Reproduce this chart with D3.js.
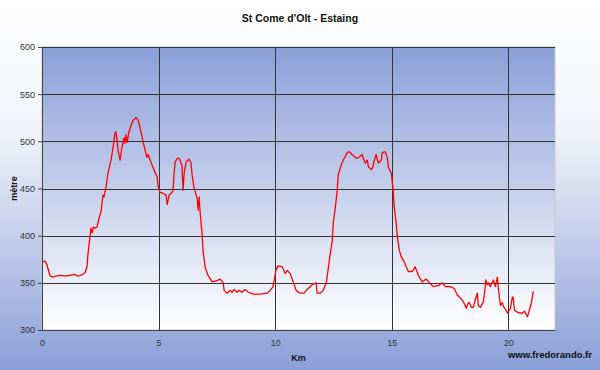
<!DOCTYPE html>
<html>
<head>
<meta charset="utf-8">
<script src="https://cdn.jsdelivr.net/npm/d3@7"></script>
<style>
    body { margin: 0; padding: 0; }
    svg text { font-family: "Liberation Sans", Arial, sans-serif; }
</style>
</head>
<body>
<div id="chart"></div>
<script>
// profile: distance (km) and altitude (m)
const distanceKm = [
    0, 0.13, 0.2, 0.34, 0.43, 0.6, 0.8, 1.0, 1.2, 1.4, 1.55, 1.75, 1.85, 1.93, 1.97,
    2.06, 2.1, 2.15, 2.2, 2.27, 2.36, 2.45, 2.53, 2.58, 2.62, 2.66, 2.75, 2.83, 2.96,
    3.05, 3.13, 3.17, 3.22, 3.26, 3.35, 3.43, 3.48, 3.52, 3.56, 3.6, 3.65, 3.73, 3.82, 3.9,
    4.03, 4.12, 4.16, 4.29, 4.34, 4.42, 4.5, 4.55, 4.64, 4.72, 4.8, 4.94, 4.98,
    5.06, 5.19, 5.32, 5.37, 5.45, 5.58, 5.62, 5.66, 5.71, 5.8, 5.88,
    6.0, 6.05, 6.1, 6.18, 6.31, 6.39, 6.44, 6.52, 6.61, 6.65, 6.7, 6.74, 6.78, 6.87, 6.91,
    7.0, 7.12, 7.3, 7.47, 7.64, 7.77, 7.81, 7.94, 8.07, 8.15, 8.24, 8.37, 8.45, 8.58, 8.71, 8.85,
    9.06, 9.36, 9.66, 9.79, 9.91, 9.96, 10.04, 10.13, 10.3, 10.43, 10.52, 10.64, 10.77, 10.9,
    11.07, 11.24, 11.37, 11.59, 11.76, 11.8, 11.93, 12.06, 12.19, 12.27, 12.34, 12.45, 12.49,
    12.58, 12.66, 12.7, 12.83, 12.92, 13.09, 13.18, 13.3, 13.48, 13.6, 13.73, 13.78, 13.86, 13.95,
    14.0, 14.12, 14.18, 14.25, 14.33, 14.42, 14.55, 14.59, 14.72, 14.81, 14.85, 14.98,
    15.06, 15.11, 15.19, 15.24, 15.32, 15.4, 15.54, 15.62, 15.71, 15.88, 16.0, 16.14, 16.3, 16.48,
    16.61, 16.78, 17.0, 17.17, 17.3, 17.51, 17.68, 17.81, 17.94, 18.07, 18.2, 18.26, 18.33, 18.41,
    18.5, 18.58, 18.67, 18.71, 18.8, 18.93, 19.0, 19.03, 19.1, 19.14, 19.23, 19.3, 19.36, 19.44,
    19.53, 19.57, 19.66, 19.74, 19.79, 19.87, 19.96, 20.09, 20.17, 20.21, 20.26, 20.39, 20.47,
    20.6, 20.69, 20.82, 20.9, 20.99, 21.07
];
const altitudeM = [
    372, 373, 370, 358, 356, 357, 358, 357, 358, 359, 357, 359, 361, 367, 380,
    399, 408, 403, 409, 408, 409, 419, 425, 436, 443, 441, 452, 466, 480,
    494, 509, 510, 501, 491, 480, 494, 499, 504, 498, 507, 499, 510, 517, 522,
    525, 523, 519, 505, 499, 491, 483, 486, 480, 475, 470, 462, 452,
    446, 445, 443, 433, 443, 446, 448, 464, 478, 482, 482,
    475, 448, 467, 478, 481, 477, 464, 451, 443, 440, 427, 441, 425, 401, 383,
    366, 358, 351, 352, 354, 350, 342, 339, 342, 340, 343, 340, 342, 340, 343, 340,
    338, 338, 339, 342, 346, 353, 364, 368, 367, 360, 363, 360, 351, 342,
    339, 339, 343, 348, 350, 339, 339, 342, 350, 364, 377, 395, 413,
    430, 448, 464, 475, 480, 488, 489, 486, 482, 483, 486, 482, 477, 480,
    473, 470, 472, 480, 486, 477, 480, 488, 489, 483, 473, 466,
    448, 430, 413, 399, 385, 378, 372, 367, 362, 362, 367, 358, 351, 354,
    350, 346, 347, 350, 346, 346, 344, 337, 334, 330, 323, 328, 329, 324,
    324, 332, 339, 326, 324, 330, 344, 353, 348, 350, 346, 350, 353, 346,
    356, 344, 326, 329, 325, 322, 318, 323, 335, 334, 321, 319, 318,
    318, 320, 314, 321, 329, 341
];
const xTicks = [0, 5, 10, 15, 20];
const yTicks = [300, 350, 400, 450, 500, 550, 600];

const TITLE = "St Come d'Olt - Estaing";
const X_LABEL = "Km";
const Y_LABEL = "mètre";
const CREDIT = "www.fredorando.fr";

const SVG_WIDTH = 600;
const SVG_HEIGHT = 370;
const margin = {top: 47, right: 45, bottom: 40, left: 42};
const plotWidth = SVG_WIDTH - margin.left - margin.right;
const plotHeight = SVG_HEIGHT - margin.top - margin.bottom;

const profile = distanceKm.map((d, i) => ({km: d, alt: altitudeM[i]}));

const svg = d3.select("#chart")
    .append("svg")
    .attr("width", SVG_WIDTH)
    .attr("height", SVG_HEIGHT);

const defs = svg.append("defs");

// page background: white at top, blue at the bottom
const bgGrad = defs.append("linearGradient")
    .attr("id", "bgGrad").attr("x1", 0).attr("y1", 0).attr("x2", 0).attr("y2", 1);
bgGrad.append("stop").attr("offset", "0%").attr("stop-color", "#ffffff");
bgGrad.append("stop").attr("offset", "35%").attr("stop-color", "#f2f4fa");
bgGrad.append("stop").attr("offset", "100%").attr("stop-color", "#8a9fd8");

// plot background: blue at top, white at the bottom
const plotGrad = defs.append("linearGradient")
    .attr("id", "plotGrad").attr("x1", 0).attr("y1", 0).attr("x2", 0).attr("y2", 1);
plotGrad.append("stop").attr("offset", "0%").attr("stop-color", "#8a9fd8");
plotGrad.append("stop").attr("offset", "100%").attr("stop-color", "#ffffff");

svg.append("rect")
    .attr("width", SVG_WIDTH).attr("height", SVG_HEIGHT)
    .attr("fill", "url(#bgGrad)");

const g = svg.append("g").attr("transform", `translate(${margin.left},${margin.top})`);

const x = d3.scaleLinear().domain([0, 22]).range([0, plotWidth]);
const y = d3.scaleLinear().domain([300, 600]).range([plotHeight, 0]);

g.append("rect")
    .attr("width", plotWidth).attr("height", plotHeight)
    .attr("fill", "url(#plotGrad)")
    .attr("stroke", "#c8c8c8");

// grid
g.append("g").selectAll("line").data(yTicks).join("line")
    .attr("x1", 0).attr("x2", plotWidth)
    .attr("y1", d => Math.round(y(d)) + 0.5).attr("y2", d => Math.round(y(d)) + 0.5)
    .attr("stroke", "#333").attr("stroke-width", 1);
g.append("g").selectAll("line").data(xTicks).join("line")
    .attr("y1", 0).attr("y2", plotHeight)
    .attr("x1", d => Math.round(x(d)) + 0.5).attr("x2", d => Math.round(x(d)) + 0.5)
    .attr("stroke", "#333").attr("stroke-width", 1);

// axes
const yAxis = g.append("g")
    .call(d3.axisLeft(y).tickValues(yTicks).tickSize(4).tickSizeOuter(0).tickPadding(3));
const xAxis = g.append("g")
    .attr("transform", `translate(0,${plotHeight})`)
    .call(d3.axisBottom(x).tickValues(xTicks).tickSize(0).tickSizeOuter(0).tickPadding(10));
[yAxis, xAxis].forEach(ax => {
    ax.select(".domain").attr("stroke", "#444");
    ax.selectAll(".tick line").attr("stroke", "#444");
    ax.selectAll(".tick text")
        .attr("fill", "#333")
        .style("font-size", "9px")
        .style("font-family", "'Liberation Sans', Arial, sans-serif");
});

// elevation line
const line = d3.line().x(d => x(d.km)).y(d => y(d.alt));
g.append("path")
    .datum(profile)
    .attr("d", line)
    .attr("fill", "none")
    .attr("stroke", "#ff0000")
    .attr("stroke-width", 1.3)
    .attr("stroke-linejoin", "round");

// texts
svg.append("text")
    .attr("x", 300).attr("y", 22)
    .attr("text-anchor", "middle")
    .style("font-size", "10.5px").style("font-weight", "bold")
    .attr("fill", "#111")
    .text(TITLE);

svg.append("text")
    .attr("x", margin.left + x(11)).attr("y", 361)
    .attr("text-anchor", "middle")
    .style("font-size", "9px").style("font-weight", "bold")
    .attr("fill", "#111")
    .text(X_LABEL);

svg.append("text")
    .attr("transform", `translate(17,${margin.top + plotHeight / 2}) rotate(-90)`)
    .attr("text-anchor", "middle")
    .style("font-size", "9px").style("font-weight", "bold")
    .attr("fill", "#111")
    .text(Y_LABEL);

svg.append("text")
    .attr("x", 592).attr("y", 358)
    .attr("text-anchor", "end")
    .style("font-size", "9.5px").style("font-weight", "bold")
    .attr("fill", "#111")
    .text(CREDIT);
</script>
</body>
</html>
